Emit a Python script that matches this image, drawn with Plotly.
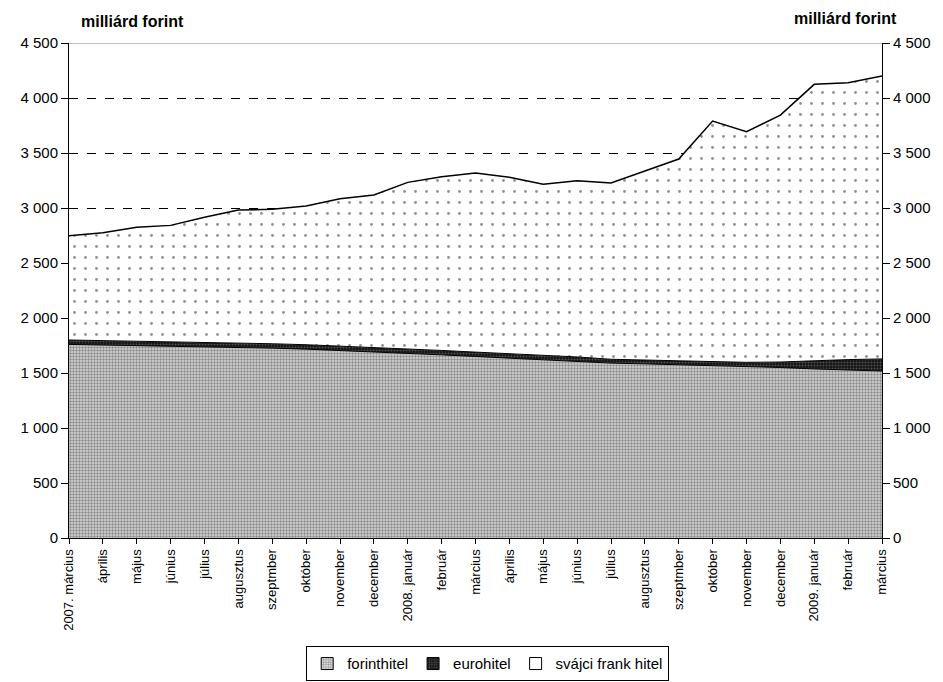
import plotly.graph_objects as go

labels = ["2007. március", "április", "május", "június", "július", "augusztus",
          "szeptmber", "október", "november", "december", "2008. január", "február",
          "március", "április", "május", "június", "július", "augusztus",
          "szeptmber", "október", "november", "december", "2009. január", "február",
          "március"]

total = [2748, 2776, 2824, 2842, 2915, 2982, 2988, 3018, 3085, 3118, 3233, 3285,
         3318, 3279, 3215, 3248, 3227, 3336, 3445, 3791, 3694, 3845, 4124, 4139, 4200]
forint = [1760, 1755, 1750, 1745, 1740, 1733, 1726, 1717, 1705, 1692, 1678, 1665,
          1650, 1636, 1622, 1608, 1590, 1583, 1576, 1568, 1560, 1550, 1537, 1527, 1518]
euro = [40, 40, 40, 40, 40, 40, 40, 40, 40, 40, 40, 40,
        40, 40, 40, 38, 35, 35, 35, 35, 37, 50, 75, 95, 110]
svajci = [t - f - e for t, f, e in zip(total, forint, euro)]

names = ["forinthitel", "eurohitel", "svájci frank hitel"]

x = list(range(len(labels)))
FONT = "Liberation Sans, Arial, sans-serif"

pat_forint = dict(shape=".", fgcolor="#404040", bgcolor="#d8d8d8", size=3, solidity=0.5)
pat_euro = dict(shape=".", fgcolor="#8c8c8c", bgcolor="#141414", size=3, solidity=0.35)
pat_svajci = dict(shape=".", fgcolor="#222222", bgcolor="white", size=11, solidity=0.05)
pats = [pat_forint, pat_euro, pat_svajci]

fig = go.Figure()
for vals, nm, pat, lw in zip([forint, euro, svajci], names, pats, [1, 1, 1.5]):
    fig.add_trace(go.Scatter(
        x=x, y=vals, name=nm, stackgroup="one", mode="lines",
        line=dict(color="black", width=lw),
        fillpattern=pat, showlegend=False, hoverinfo="x+y",
    ))

# legend-only items (square swatches)
for nm, pat in zip(names, pats):
    p = dict(pat)
    if nm == "svájci frank hitel":
        p = dict(shape="", fgcolor="white", bgcolor="white")
    fig.add_trace(go.Bar(
        x=[None], y=[None], name=nm,
        marker=dict(color=p["bgcolor"], pattern=dict(shape=p["shape"], fgcolor=p["fgcolor"],
                                                     bgcolor=p["bgcolor"], size=3, solidity=0.4),
                    line=dict(color="black", width=1)),
        showlegend=True,
    ))

# helper trace for the right axis
fig.add_trace(go.Scatter(x=[0], y=[0], yaxis="y2", mode="lines", showlegend=False,
                         hoverinfo="skip", line=dict(color="rgba(0,0,0,0)")))

yaxis_common = dict(
    range=[0, 4500], dtick=500, tickformat=",d", ticks="outside", ticklen=7,
    tickcolor="black", showline=True, linecolor="black", linewidth=1,
    tickfont=dict(family=FONT, size=15, color="black"), zeroline=False,
)

fig.update_layout(
    width=935, height=674,
    margin=dict(l=58, r=55, t=35, b=144),
    paper_bgcolor="white", plot_bgcolor="white",
    separators=", ",
    font=dict(family=FONT, color="black"),
    showlegend=True,
    legend=dict(orientation="h", x=0.515, xanchor="center",
                yref="container", y=0.027, yanchor="middle",
                bordercolor="black", borderwidth=1, traceorder="normal",
                font=dict(family=FONT, size=15, color="black"),
                itemwidth=30, tracegroupgap=0),
    xaxis=dict(
        range=[0, 24], tickvals=x, ticktext=labels, tickangle=-90,
        ticks="outside", ticklen=5, tickcolor="black", showline=True,
        linecolor="black", linewidth=1, showgrid=False, zeroline=False,
        tickfont=dict(family=FONT, size=13, color="black"),
    ),
    yaxis=dict(**yaxis_common, showgrid=True, gridcolor="black", gridwidth=1,
               griddash="dash"),
    yaxis2=dict(**yaxis_common, overlaying="y", side="right", showgrid=False),
    shapes=[dict(type="line", xref="paper", x0=0, x1=1, yref="y", y0=4500, y1=4500,
                 line=dict(color="#808080", width=1))],
    annotations=[
        dict(text="<b>milliárd forint</b>", xref="paper", yref="paper", x=0.078, y=1.0444,
             showarrow=False, font=dict(family=FONT, size=16, color="black"),
             xanchor="center", yanchor="middle"),
        dict(text="<b>milliárd forint</b>", xref="paper", yref="paper", x=0.955, y=1.0485,
             showarrow=False, font=dict(family=FONT, size=16, color="black"),
             xanchor="center", yanchor="middle"),
    ],
)

fig.write_html("out.html")
